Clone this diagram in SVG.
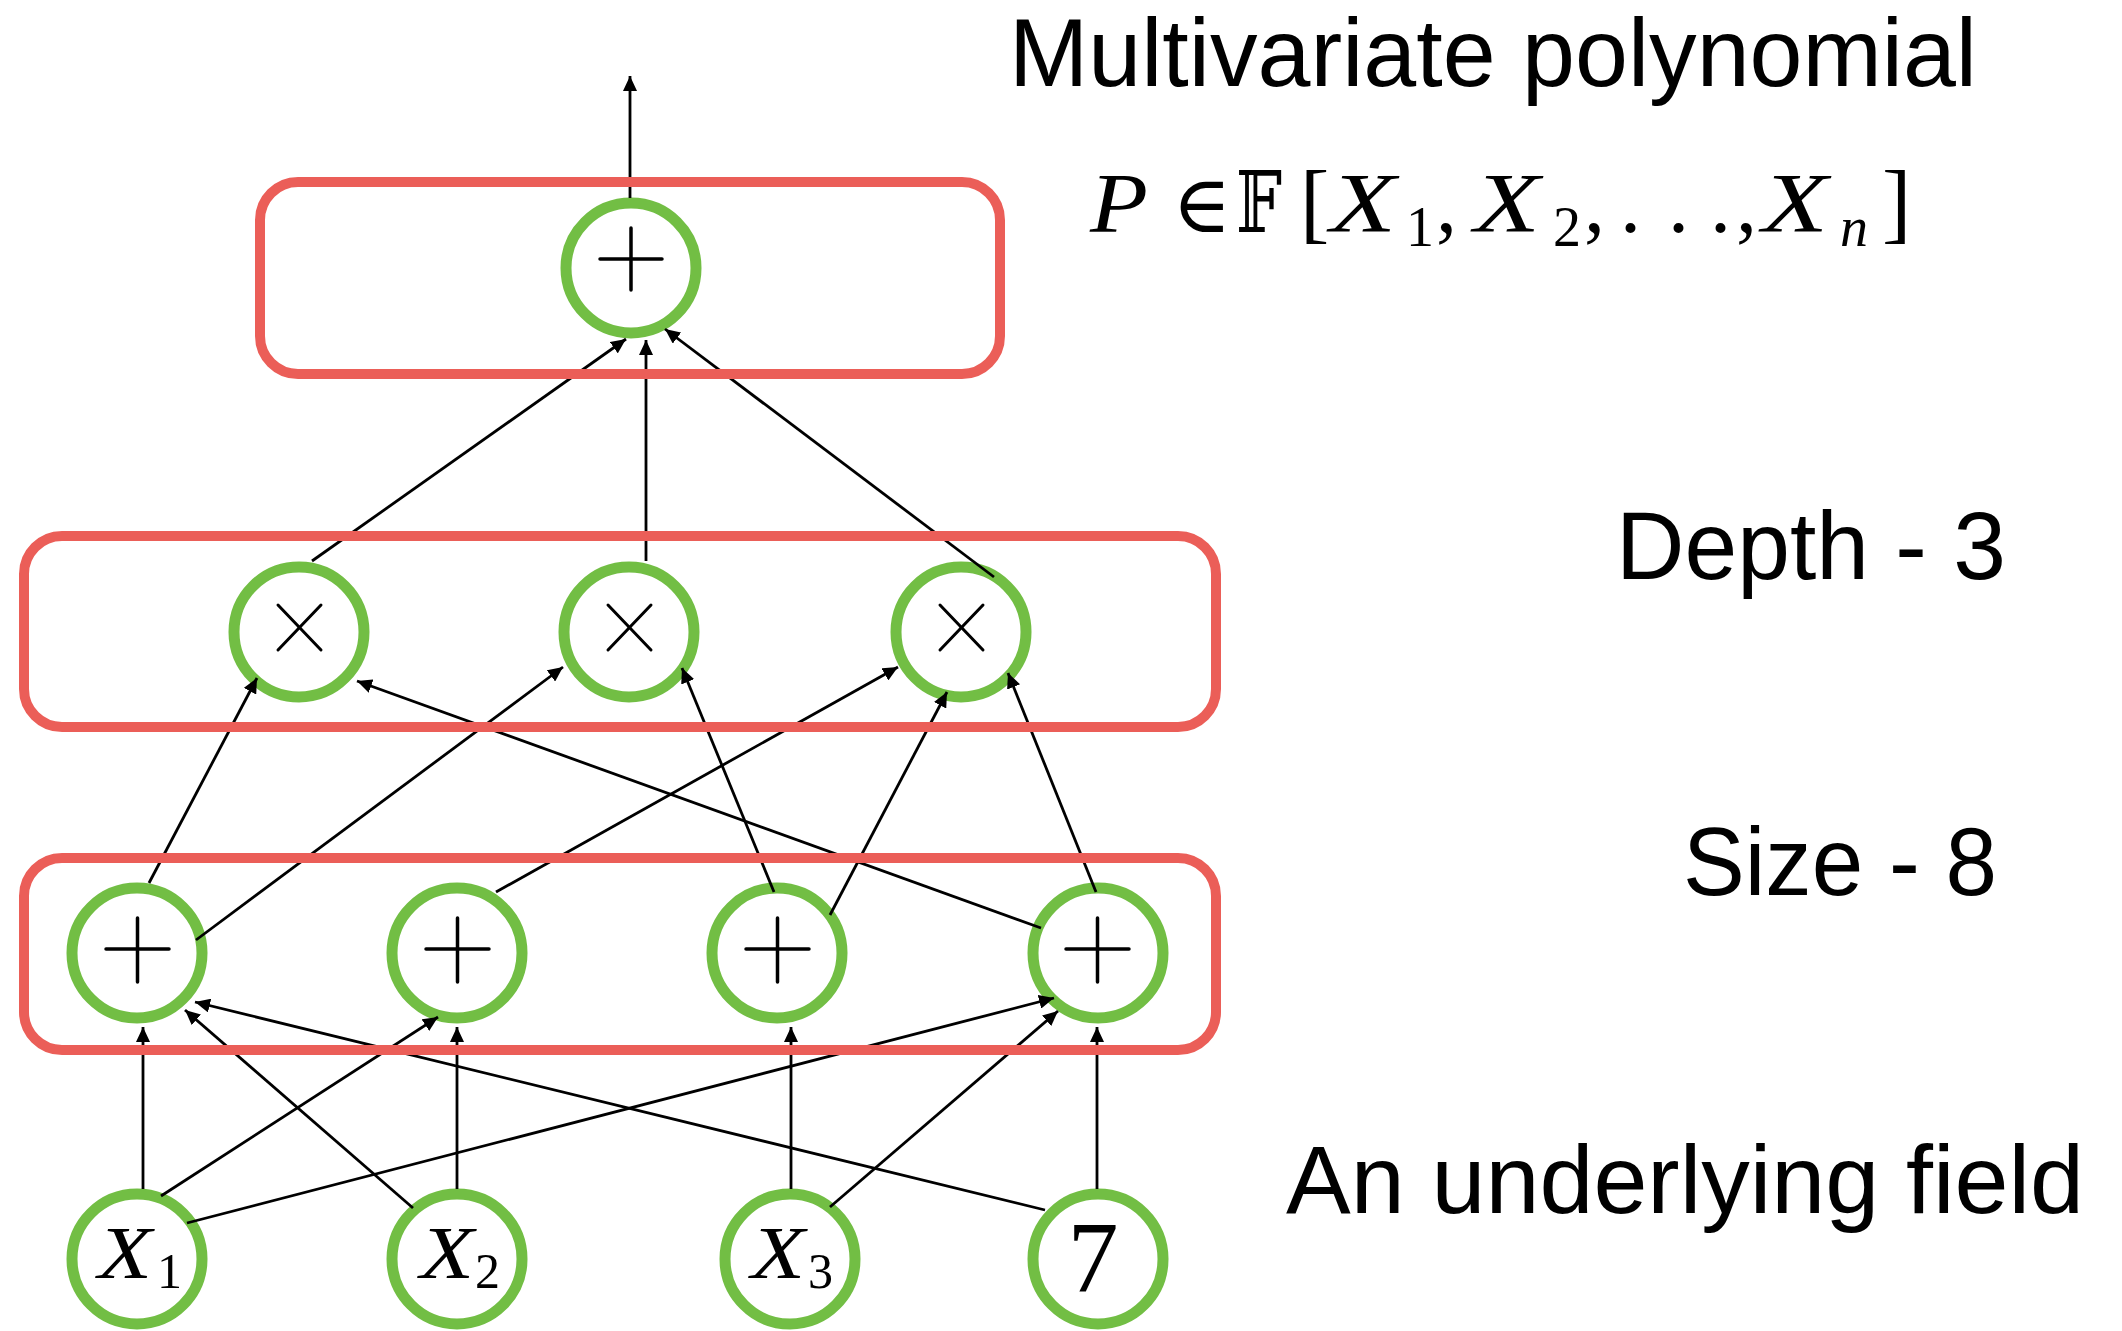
<svg xmlns="http://www.w3.org/2000/svg" width="2122" height="1331" viewBox="0 0 2122 1331">
  <style>
    .node { fill: #ffffff; stroke: #72BE44; stroke-width: 11; }
    .layer { fill: none; stroke: #EB5E58; stroke-width: 10; }
    .op { stroke: #000000; stroke-width: 3.5; stroke-linecap: round; }
    .mul { stroke: #000000; stroke-width: 3; stroke-linecap: round; }
    .edge { stroke: #000000; stroke-width: 2.8; fill: none; marker-end: url(#arrow); }
    .label { font-family: "Liberation Sans", Arial, sans-serif; font-size: 96px; fill: #000000; }
    .math { font-family: "Liberation Serif", "DejaVu Serif", serif; fill: #000000; }
    .it { font-style: italic; }
  </style>
  <defs>
    <marker id="arrow" markerUnits="userSpaceOnUse" markerWidth="16" markerHeight="14" refX="15" refY="7" orient="auto">
      <path d="M0,0 L15,7 L0,14 Z" fill="#000000"/>
    </marker>
  </defs>

  <rect width="2122" height="1331" fill="#ffffff"/>

  <!-- gates and inputs -->
  <g id="node-sum-top">
    <circle class="node" cx="631" cy="268" r="65"/>
    <line class="op" x1="600" y1="259" x2="662" y2="259"/>
    <line class="op" x1="631" y1="228" x2="631" y2="290"/>
  </g>

  <g id="node-mul-1">
    <circle class="node" cx="299" cy="632" r="65"/>
    <line class="mul" x1="278" y1="605" x2="321" y2="650"/>
    <line class="mul" x1="321" y1="605" x2="278" y2="650"/>
  </g>
  <g id="node-mul-2">
    <circle class="node" cx="629" cy="632" r="65"/>
    <line class="mul" x1="608" y1="605" x2="651" y2="650"/>
    <line class="mul" x1="651" y1="605" x2="608" y2="650"/>
  </g>
  <g id="node-mul-3">
    <circle class="node" cx="961" cy="632" r="65"/>
    <line class="mul" x1="940" y1="605" x2="983" y2="650"/>
    <line class="mul" x1="983" y1="605" x2="940" y2="650"/>
  </g>

  <g id="node-sum-1">
    <circle class="node" cx="137" cy="953" r="65"/>
    <line class="op" x1="106" y1="949" x2="169" y2="949"/>
    <line class="op" x1="137.5" y1="918" x2="137.5" y2="982"/>
  </g>
  <g id="node-sum-2">
    <circle class="node" cx="457" cy="953" r="65"/>
    <line class="op" x1="426" y1="949" x2="489" y2="949"/>
    <line class="op" x1="457.5" y1="918" x2="457.5" y2="982"/>
  </g>
  <g id="node-sum-3">
    <circle class="node" cx="777" cy="953" r="65"/>
    <line class="op" x1="746" y1="949" x2="809" y2="949"/>
    <line class="op" x1="777.5" y1="918" x2="777.5" y2="982"/>
  </g>
  <g id="node-sum-4">
    <circle class="node" cx="1098" cy="953" r="65"/>
    <line class="op" x1="1066" y1="949" x2="1129" y2="949"/>
    <line class="op" x1="1097.5" y1="918" x2="1097.5" y2="982"/>
  </g>

  <g id="node-x1">
    <circle class="node" cx="137" cy="1259" r="65"/>
    <text class="math it" x="98" y="1278" font-size="74" textLength="54" lengthAdjust="spacingAndGlyphs">X</text>
    <text class="math" x="157" y="1288" font-size="50">1</text>
  </g>
  <g id="node-x2">
    <circle class="node" cx="457" cy="1259" r="65"/>
    <text class="math it" x="420" y="1278" font-size="74" textLength="54" lengthAdjust="spacingAndGlyphs">X</text>
    <text class="math" x="475" y="1288" font-size="50">2</text>
  </g>
  <g id="node-x3">
    <circle class="node" cx="790" cy="1259" r="65"/>
    <text class="math it" x="751" y="1278" font-size="74" textLength="54" lengthAdjust="spacingAndGlyphs">X</text>
    <text class="math" x="808" y="1288" font-size="50">3</text>
  </g>
  <g id="node-const-7">
    <circle class="node" cx="1098" cy="1259" r="65"/>
    <text class="math" x="1093" y="1292" font-size="102" text-anchor="middle">7</text>
  </g>

  <!-- wires between gates -->
  <g id="connectors">
    <line class="edge" x1="630" y1="198" x2="630" y2="76"/>

    <line class="edge" x1="312" y1="561" x2="626" y2="339"/>
    <line class="edge" x1="646" y1="561" x2="646" y2="340"/>
    <line class="edge" x1="994" y1="577" x2="665" y2="329"/>

    <line class="edge" x1="149" y1="883" x2="257" y2="678"/>
    <line class="edge" x1="196" y1="940" x2="563" y2="667"/>
    <line class="edge" x1="496" y1="892" x2="898" y2="667"/>
    <line class="edge" x1="774" y1="892" x2="682" y2="668"/>
    <line class="edge" x1="830" y1="915" x2="947" y2="692"/>
    <line class="edge" x1="1096" y1="892" x2="1008" y2="673"/>
    <line class="edge" x1="1041" y1="928" x2="357" y2="681"/>

    <line class="edge" x1="143" y1="1189" x2="143" y2="1027"/>
    <line class="edge" x1="161" y1="1196" x2="438" y2="1017"/>
    <line class="edge" x1="187" y1="1223" x2="1054" y2="998"/>
    <line class="edge" x1="413" y1="1208" x2="185" y2="1010"/>
    <line class="edge" x1="457" y1="1189" x2="457" y2="1027"/>
    <line class="edge" x1="791" y1="1189" x2="791" y2="1027"/>
    <line class="edge" x1="830" y1="1207" x2="1058" y2="1011"/>
    <line class="edge" x1="1045" y1="1210" x2="195" y2="1002"/>
    <line class="edge" x1="1097" y1="1189" x2="1097" y2="1027"/>
  </g>

  <!-- layer frames -->
  <g id="layer-top">
    <rect class="layer" x="260" y="182" width="740" height="192" rx="38" ry="38"/>
  </g>
  <g id="layer-mul">
    <rect class="layer" x="24" y="536" width="1192" height="191" rx="38" ry="38"/>
  </g>
  <g id="layer-sum">
    <rect class="layer" x="24" y="858" width="1192" height="192" rx="38" ry="38"/>
  </g>

  <!-- annotations -->
  <g id="annotations">
    <text class="label" x="1009" y="86" textLength="968" lengthAdjust="spacingAndGlyphs">Multivariate polynomial</text>
    <text class="label" x="1616" y="579" textLength="390" lengthAdjust="spacingAndGlyphs">Depth - 3</text>
    <text class="label" x="1683" y="895" textLength="314" lengthAdjust="spacingAndGlyphs">Size - 8</text>
    <text class="label" x="1286" y="1213" textLength="798" lengthAdjust="spacingAndGlyphs">An underlying field</text>

    <g id="formula" class="math" font-size="84">
      <text class="it" x="1090" y="232" textLength="58" lengthAdjust="spacingAndGlyphs">P</text>
      <text x="1172" y="232" font-size="80" font-weight="200" font-family="'DejaVu Sans', 'DejaVu Serif', sans-serif">∈</text>
      <text x="1236" y="232" textLength="46" lengthAdjust="spacingAndGlyphs" font-family="'DejaVu Serif', 'DejaVu Sans', serif">𝔽</text>
      <text x="1300" y="232" font-size="88">[</text>
      <text class="it" x="1330" y="232" textLength="66" lengthAdjust="spacingAndGlyphs">X</text>
      <text x="1406" y="246" font-size="56">1</text>
      <text x="1436" y="232">,</text>
      <text class="it" x="1474" y="232" textLength="66" lengthAdjust="spacingAndGlyphs">X</text>
      <text x="1553" y="246" font-size="56">2</text>
      <text x="1584" y="232">,</text>
      <text x="1620" y="232">.</text>
      <text x="1668" y="232">.</text>
      <text x="1710" y="232">.</text>
      <text x="1736" y="232">,</text>
      <text class="it" x="1762" y="232" textLength="66" lengthAdjust="spacingAndGlyphs">X</text>
      <text class="it" x="1840" y="246" font-size="56">n</text>
      <text x="1882" y="232" font-size="88">]</text>
    </g>
  </g>
</svg>
